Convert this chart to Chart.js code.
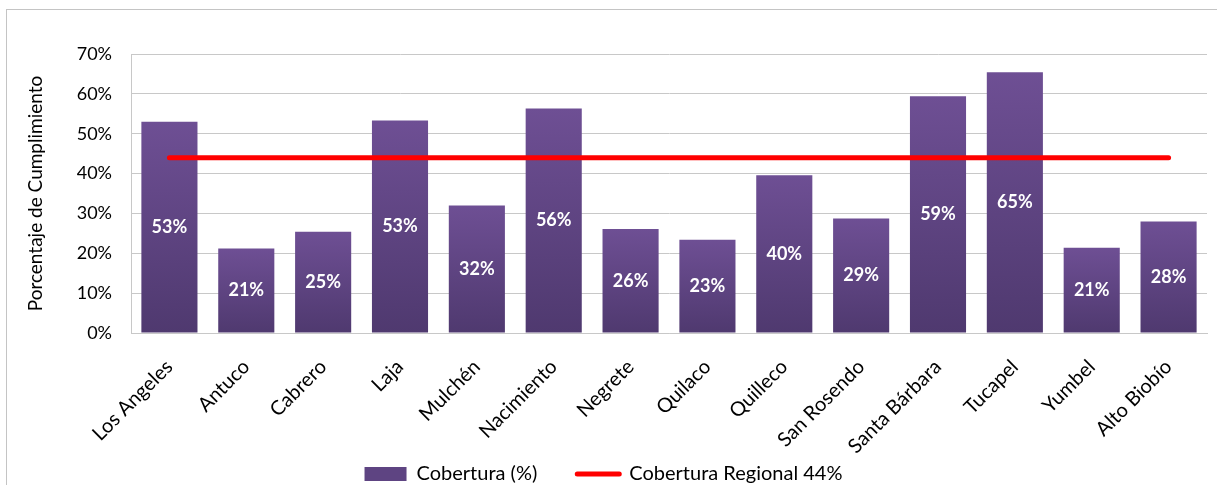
<!DOCTYPE html>
<html>
<head>
<meta charset="utf-8">
<script src="https://cdn.jsdelivr.net/npm/chart.js@4"></script>
<style>
  body { margin: 0; background: #fff; overflow: hidden; }
  #frame { position: absolute; left: 6px; top: 9px; width: 1300px; height: 600px; border: 1px solid #c4c4c4; }
  #wrap { position: absolute; left: 0; top: 0; width: 1217px; height: 485px; }
</style>
</head>
<body>
<div id="frame"></div>
<div id="wrap"><canvas id="chart"></canvas></div>
<script>
const comunas = ['Los Angeles', 'Antuco', 'Cabrero', 'Laja', 'Mulchén', 'Nacimiento', 'Negrete',
    'Quilaco', 'Quilleco', 'San Rosendo', 'Santa Bárbara', 'Tucapel', 'Yumbel', 'Alto Biobío'];
const cobertura = [53.0, 21.2, 25.4, 53.3, 32.0, 56.3, 26.1, 23.4, 39.6, 28.7, 59.4, 65.4, 21.4, 28.0];
const coberturaRegional = 44;
const yTicks = [0, 10, 20, 30, 40, 50, 60, 70];

const fontName = 'Lato, Carlito, "Open Sans", sans-serif';
const gridColour = '#c8c8c8';

function barFill(context) {
    const chart = context.chart;
    if (!chart.chartArea || context.type !== 'data') {
        return '#5e4482';
    }
    const y = chart.scales.y;
    const top = y.getPixelForValue(context.parsed.y);
    const bottom = y.getPixelForValue(0);
    const g = chart.ctx.createLinearGradient(0, top, 0, bottom);
    g.addColorStop(0, '#6e4f94');
    g.addColorStop(1, '#4f396f');
    return g;
}

// white percentages in the middle of each bar
const valueLabels = {
    id: 'valueLabels',
    afterDatasetsDraw(chart) {
        const ctx = chart.ctx;
        const meta = chart.getDatasetMeta(0);
        ctx.save();
        ctx.fillStyle = '#ffffff';
        ctx.font = 'bold 18px ' + fontName;
        ctx.textAlign = 'center';
        ctx.textBaseline = 'middle';
        meta.data.forEach((bar, i) => {
            ctx.fillText(Math.round(cobertura[i]) + '%', bar.x, (bar.y + bar.base) / 2);
        });
        ctx.restore();
    }
};

// the rotated category names run past the x scale box; don't clip them
const labelRoom = {
    id: 'labelRoom',
    afterLayout(chart) {
        chart.scales.x.bottom = chart.height;
    }
};

new Chart(document.getElementById('chart'), {
    data: {
        labels: comunas,
        datasets: [
            {
                type: 'bar',
                label: 'Cobertura (%)',
                data: cobertura,
                backgroundColor: barFill,
                borderWidth: 0,
                barPercentage: 0.73,
                categoryPercentage: 1,
                order: 2
            },
            {
                type: 'line',
                label: 'Cobertura Regional 44%',
                data: comunas.map(() => coberturaRegional),
                borderColor: '#ff0000',
                backgroundColor: '#ff0000',
                borderWidth: 5,
                borderCapStyle: 'round',
                pointRadius: 0,
                order: 1
            }
        ]
    },
    options: {
        responsive: true,
        maintainAspectRatio: false,
        animation: false,
        layout: { padding: { left: 0, right: 10, top: 54, bottom: -9 } },
        plugins: {
            tooltip: { enabled: false },
            legend: {
                position: 'bottom',
                labels: {
                    color: '#000',
                    font: { family: fontName, size: 20 },
                    usePointStyle: true,
                    pointStyleWidth: 42,
                    boxHeight: 14,
                    padding: 40,
                    sort: (a, b) => a.datasetIndex - b.datasetIndex,
                    generateLabels(chart) {
                        const items = Chart.defaults.plugins.legend.labels.generateLabels(chart);
                        items.forEach(item => {
                            if (item.datasetIndex === 0) {
                                item.pointStyle = 'rect';
                                item.lineWidth = 0;
                                item.fillStyle = '#5e4482';
                            } else {
                                item.pointStyle = 'line';
                                item.lineWidth = 5;
                                item.strokeStyle = '#ff0000';
                                item.lineCap = 'round';
                            }
                        });
                        return items;
                    }
                }
            }
        },
        scales: {
            x: {
                grid: { display: false },
                border: { display: true, color: gridColour },
                ticks: {
                    color: '#000',
                    font: { family: fontName, size: 20 },
                    minRotation: 45,
                    maxRotation: 45,
                    autoSkip: false,
                    padding: 14
                },
                afterFit(scale) { scale.height = 91; }
            },
            y: {
                min: 0,
                max: 70,
                afterBuildTicks(scale) { scale.ticks = yTicks.map(v => ({ value: v })); },
                grid: { color: gridColour, drawTicks: false },
                border: { display: true, color: gridColour },
                ticks: {
                    color: '#000',
                    font: { family: fontName, size: 18 },
                    padding: 19,
                    callback: v => v + '%'
                },
                title: {
                    display: true,
                    text: 'Porcentaje de Cumplimiento',
                    color: '#000',
                    font: { family: fontName, size: 19 },
                    padding: { top: 24, bottom: 0 }
                },
                afterFit(scale) { scale.width = 131; }
            }
        }
    },
    plugins: [valueLabels, labelRoom]
});
</script>
</body>
</html>
